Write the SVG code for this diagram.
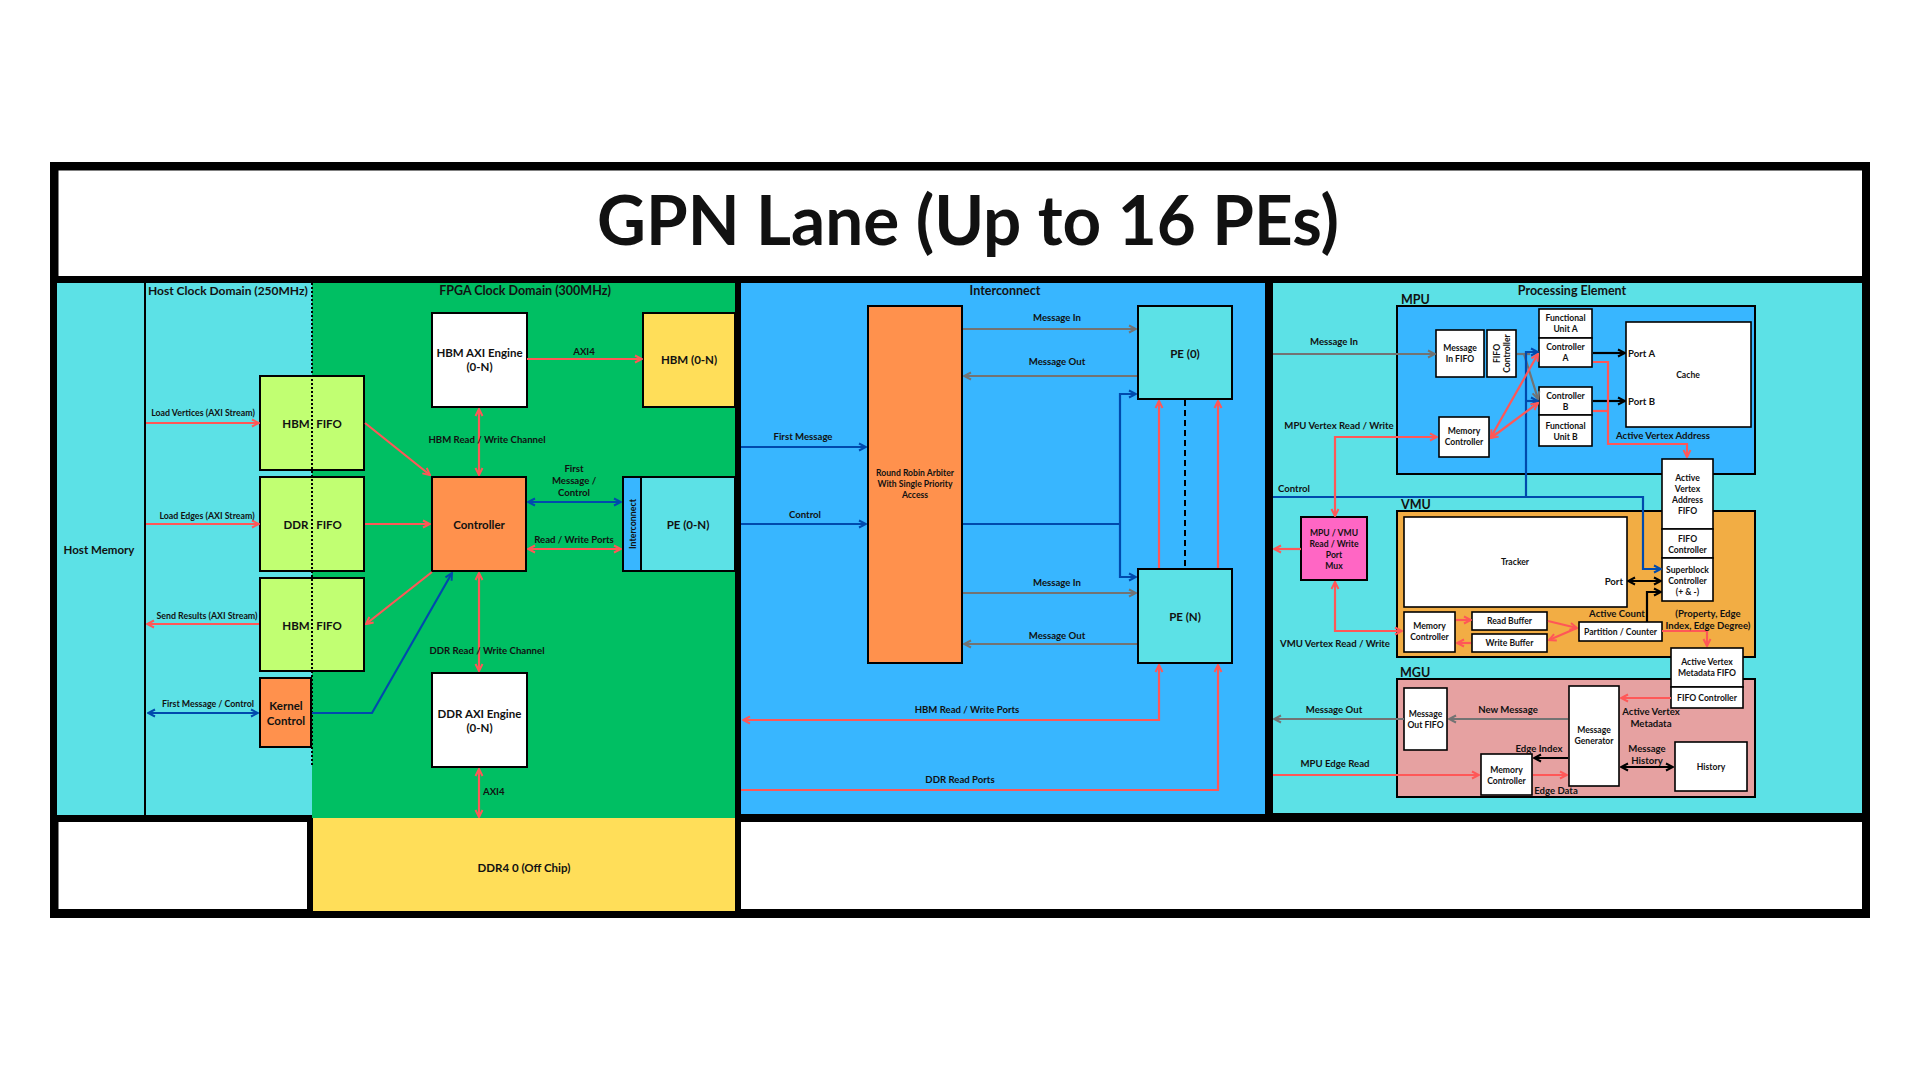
<svg xmlns="http://www.w3.org/2000/svg" width="1920" height="1080" viewBox="0 0 1920 1080">
<defs>
<style>
.t{font-family:Lato,"Open Sans","Liberation Sans",sans-serif;font-weight:700;fill:#111;text-anchor:middle;dominant-baseline:central}
.l{text-anchor:start}
.e{text-anchor:end}
.f68{font-size:68px}.f12{font-size:12.5px}.f11{font-size:11.5px}.f9{font-size:9px}.f85{font-size:9.6px}.f8{font-size:8.8px}.f75{font-size:8.6px}
.box{stroke:#000;stroke-width:2}
.sm{stroke:#000;stroke-width:1.6}
.red{fill:none;stroke:#FF5757;stroke-width:2.2}
.blu{fill:none;stroke:#004AAD;stroke-width:2.2}
.gry{fill:none;stroke:#737373;stroke-width:2.2}
.blk{fill:none;stroke:#000;stroke-width:2.2}
.ar{marker-end:url(#mr)}.ar2{marker-start:url(#mr);marker-end:url(#mr)}
.ab{marker-end:url(#mb)}.ab2{marker-start:url(#mb);marker-end:url(#mb)}
.ag{marker-end:url(#mg)}
.ak{marker-end:url(#mk)}.ak2{marker-start:url(#mk);marker-end:url(#mk)}
</style>
<marker id="mr" viewBox="0 0 10 10" refX="9" refY="5" markerWidth="10" markerHeight="10" markerUnits="userSpaceOnUse" orient="auto-start-reverse"><path d="M2,1.5 L9,5 L2,8.5" fill="none" stroke="#FF5757" stroke-width="2"/></marker>
<marker id="mb" viewBox="0 0 10 10" refX="9" refY="5" markerWidth="10" markerHeight="10" markerUnits="userSpaceOnUse" orient="auto-start-reverse"><path d="M2,1.5 L9,5 L2,8.5" fill="none" stroke="#004AAD" stroke-width="2"/></marker>
<marker id="mg" viewBox="0 0 10 10" refX="9" refY="5" markerWidth="10" markerHeight="10" markerUnits="userSpaceOnUse" orient="auto-start-reverse"><path d="M2,1.5 L9,5 L2,8.5" fill="none" stroke="#737373" stroke-width="2"/></marker>
<marker id="mk" viewBox="0 0 10 10" refX="9" refY="5" markerWidth="10" markerHeight="10" markerUnits="userSpaceOnUse" orient="auto-start-reverse"><path d="M2,1.5 L9,5 L2,8.5" fill="none" stroke="#000" stroke-width="2"/></marker>
</defs>
<rect width="1920" height="1080" fill="#fff"/>

<g id="frame">
<rect x="50" y="162" width="1820" height="756" fill="#000"/>
<rect x="58.5" y="170.5" width="1803.5" height="105.5" fill="#fff"/>
<rect x="57" y="283" width="87" height="532" fill="#5CE1E6"/>
<rect x="146" y="283" width="166" height="532" fill="#5CE1E6"/>
<rect x="312" y="283" width="423" height="535" fill="#00BF63"/>
<rect x="741" y="283" width="524" height="531" fill="#38B6FF"/>
<rect x="1273" y="283" width="589" height="530" fill="#5CE1E6"/>
<rect x="58.5" y="822" width="248.5" height="87" fill="#fff"/>
<rect x="741" y="822" width="1121" height="87" fill="#fff"/>
<text class="t f68" x="968" y="218" textLength="742" lengthAdjust="spacingAndGlyphs">GPN Lane (Up to 16 PEs)</text>
<text class="t f11" x="99" y="549">Host Memory</text>
<text class="t l" style="font-size:12px" x="148" y="290">Host Clock Domain (250MHz)</text>
<text class="t f12" x="525" y="290">FPGA Clock Domain (300MHz)</text>
<text class="t f12" x="1005" y="290">Interconnect</text>
<text class="t f12" x="1572" y="290">Processing Element</text>
</g>

<g id="ddr4-offchip">
<rect x="313" y="818" width="422" height="93" fill="#FFDE59"/>
<text class="t f11" x="524" y="867">DDR4 0 (Off Chip)</text>
</g>

<g id="hbm-fifo-in">
<rect class="box" x="260" y="376" width="104" height="94" fill="#C1FF72"/>
<text class="t f11" x="296" y="423">HBM</text><text class="t f11" x="329" y="423">FIFO</text>
</g>
<g id="ddr-fifo">
<rect class="box" x="260" y="477" width="104" height="94" fill="#C1FF72"/>
<text class="t f11" x="296" y="524">DDR</text><text class="t f11" x="329" y="524">FIFO</text>
</g>
<g id="hbm-fifo-out">
<rect class="box" x="260" y="578" width="104" height="93" fill="#C1FF72"/>
<text class="t f11" x="296" y="625">HBM</text><text class="t f11" x="329" y="625">FIFO</text>
</g>
<g id="kernel-control">
<rect class="box" x="260" y="678" width="51" height="69" fill="#FF914D"/>
<text class="t f11" x="286" y="705">Kernel</text><text class="t f11" x="286" y="720">Control</text>
</g>
<line x1="312" y1="283" x2="312" y2="765" stroke="#000" stroke-width="2" stroke-dasharray="2 2"/>

<g id="hbm-axi-engine">
<rect class="box" x="432" y="313" width="95" height="94" fill="#fff"/>
<text class="t f11" x="479.5" y="352">HBM AXI Engine</text><text class="t f11" x="479.5" y="366">(0-N)</text>
</g>
<g id="hbm">
<rect class="box" x="643" y="313" width="92" height="94" fill="#FFDE59"/>
<text class="t f11" x="689" y="359">HBM (0-N)</text>
</g>
<g id="controller">
<rect class="box" x="432" y="477" width="94" height="94" fill="#FF914D"/>
<text class="t f11" x="479" y="524">Controller</text>
</g>
<g id="interconnect-small">
<rect class="box" x="623" y="477" width="18" height="94" fill="#38B6FF"/>
<text class="t f8" transform="translate(632,524) rotate(-90)" x="0" y="0">Interconnect</text>
</g>
<g id="pe-0-n">
<rect class="box" x="641" y="477" width="94" height="94" fill="#5CE1E6"/>
<text class="t f11" x="688" y="524">PE (0-N)</text>
</g>
<g id="ddr-axi-engine">
<rect class="box" x="432" y="673" width="95" height="94" fill="#fff"/>
<text class="t f11" x="479.5" y="713">DDR AXI Engine</text><text class="t f11" x="479.5" y="727">(0-N)</text>
</g>

<g id="arbiter">
<rect class="box" x="868" y="306" width="94" height="357" fill="#FF914D"/>
<text class="t f75" x="915" y="473">Round Robin Arbiter</text>
<text class="t f75" x="915" y="484">With Single Priority</text>
<text class="t f75" x="915" y="495">Access</text>
</g>
<g id="pe-0">
<rect class="box" x="1138" y="306" width="94" height="93" fill="#5CE1E6"/>
<text class="t f11" x="1185" y="353">PE (0)</text>
</g>
<g id="pe-n">
<rect class="box" x="1138" y="569" width="94" height="94" fill="#5CE1E6"/>
<text class="t f11" x="1185" y="616">PE (N)</text>
</g>

<g id="mpu">
<rect class="box" x="1397" y="306" width="358" height="168" fill="#38B6FF"/>
<text class="t f12 l" x="1401" y="299">MPU</text>
</g>
<g id="vmu">
<rect class="box" x="1397" y="511" width="358" height="146" fill="#F2AD44"/>
<text class="t f12 l" x="1401" y="504">VMU</text>
</g>
<g id="mgu">
<rect class="box" x="1397" y="679" width="358" height="118" fill="#E6A1A1"/>
<text class="t f12 l" x="1400" y="672">MGU</text>
</g>

<g id="msg-in-fifo">
<rect class="sm" x="1436" y="330" width="48" height="47" fill="#fff"/>
<text class="t f75" x="1460" y="348">Message</text><text class="t f75" x="1460" y="359">In FIFO</text>
</g>
<g id="mpu-fifo-controller">
<rect class="sm" x="1487" y="330" width="29" height="47" fill="#fff"/>
<text class="t f75" transform="translate(1497,353.5) rotate(-90)">FIFO</text>
<text class="t f75" transform="translate(1507,353.5) rotate(-90)">Controller</text>
</g>
<g id="fu-a">
<rect class="sm" x="1539" y="309" width="53" height="29" fill="#fff"/>
<text class="t f75" x="1565.5" y="318">Functional</text><text class="t f75" x="1565.5" y="329">Unit A</text>
</g>
<g id="ctrl-a">
<rect class="sm" x="1539" y="338" width="53" height="29" fill="#fff"/>
<text class="t f75" x="1565.5" y="347">Controller</text><text class="t f75" x="1565.5" y="358">A</text>
</g>
<g id="ctrl-b">
<rect class="sm" x="1539" y="387" width="53" height="28" fill="#fff"/>
<text class="t f75" x="1565.5" y="396">Controller</text><text class="t f75" x="1565.5" y="407">B</text>
</g>
<g id="fu-b">
<rect class="sm" x="1539" y="415" width="53" height="31" fill="#fff"/>
<text class="t f75" x="1565.5" y="426">Functional</text><text class="t f75" x="1565.5" y="437">Unit B</text>
</g>
<g id="cache">
<rect class="sm" x="1626" y="322" width="125" height="105" fill="#fff"/>
<text class="t f75" x="1688" y="375">Cache</text>
<text class="t f85 l" x="1628" y="353">Port A</text>
<text class="t f85 l" x="1628" y="401">Port B</text>
</g>
<g id="mpu-memory-controller">
<rect class="sm" x="1439" y="417" width="50" height="40" fill="#fff"/>
<text class="t f75" x="1464" y="431">Memory</text><text class="t f75" x="1464" y="442">Controller</text>
</g>
<g id="active-vertex-address-fifo">
<rect class="sm" x="1662" y="459" width="51" height="70" fill="#fff"/>
<text class="t f75" x="1687.5" y="478">Active</text><text class="t f75" x="1687.5" y="489">Vertex</text>
<text class="t f75" x="1687.5" y="500">Address</text><text class="t f75" x="1687.5" y="511">FIFO</text>
</g>
<g id="vmu-fifo-controller">
<rect class="sm" x="1662" y="529" width="51" height="29" fill="#fff"/>
<text class="t f75" x="1687.5" y="539">FIFO</text><text class="t f75" x="1687.5" y="550">Controller</text>
</g>
<g id="superblock-controller">
<rect class="sm" x="1662" y="558" width="51" height="43" fill="#fff"/>
<text class="t f75" x="1687.5" y="570">Superblock</text><text class="t f75" x="1687.5" y="581">Controller</text><text class="t f75" x="1687.5" y="592">(+ &amp; -)</text>
</g>
<g id="tracker">
<rect class="sm" x="1404" y="517" width="223" height="90" fill="#fff"/>
<text class="t f75" x="1515" y="562">Tracker</text>
<text class="t f85 e" x="1623" y="581">Port</text>
</g>
<g id="port-mux">
<rect class="box" x="1301" y="517" width="66" height="63" fill="#FF66C4"/>
<text class="t f75" x="1334" y="533">MPU / VMU</text><text class="t f75" x="1334" y="544">Read / Write</text>
<text class="t f75" x="1334" y="555">Port</text><text class="t f75" x="1334" y="566">Mux</text>
</g>
<g id="vmu-memory-controller">
<rect class="sm" x="1404" y="612" width="51" height="40" fill="#fff"/>
<text class="t f75" x="1429.5" y="626">Memory</text><text class="t f75" x="1429.5" y="637">Controller</text>
</g>
<g id="read-buffer">
<rect class="sm" x="1472" y="612" width="75" height="18" fill="#fff"/>
<text class="t f75" x="1509.5" y="621">Read Buffer</text>
</g>
<g id="write-buffer">
<rect class="sm" x="1472" y="634" width="75" height="18" fill="#fff"/>
<text class="t f75" x="1509.5" y="643">Write Buffer</text>
</g>
<g id="partition-counter">
<rect class="sm" x="1579" y="622" width="83" height="19" fill="#fff"/>
<text class="t f75" x="1620.5" y="631.5">Partition / Counter</text>
</g>
<g id="av-metadata-fifo">
<rect class="sm" x="1671" y="648" width="72" height="39" fill="#fff"/>
<text class="t f75" x="1707" y="662">Active Vertex</text><text class="t f75" x="1707" y="673">Metadata FIFO</text>
</g>
<g id="mgu-fifo-controller">
<rect class="sm" x="1671" y="687" width="72" height="21" fill="#fff"/>
<text class="t f75" x="1707" y="698">FIFO Controller</text>
</g>
<g id="msg-out-fifo">
<rect class="sm" x="1404" y="688" width="43" height="62" fill="#fff"/>
<text class="t f75" x="1425.5" y="714">Message</text><text class="t f75" x="1425.5" y="725">Out FIFO</text>
</g>
<g id="message-generator">
<rect class="sm" x="1569" y="686" width="50" height="100" fill="#fff"/>
<text class="t f75" x="1594" y="730">Message</text><text class="t f75" x="1594" y="741">Generator</text>
</g>
<g id="history">
<rect class="sm" x="1675" y="742" width="72" height="49" fill="#fff"/>
<text class="t f75" x="1711" y="767">History</text>
</g>
<g id="mgu-memory-controller">
<rect class="sm" x="1481" y="754" width="51" height="41" fill="#fff"/>
<text class="t f75" x="1506.5" y="770">Memory</text><text class="t f75" x="1506.5" y="781">Controller</text>
</g>

<g id="connectors">
<line class="red ar" x1="146" y1="423" x2="259" y2="423"/>
<line class="red ar" x1="146" y1="524" x2="259" y2="524"/>
<line class="red ar" x1="259" y1="624" x2="147" y2="624"/>
<line class="blu ab2" x1="148" y1="713" x2="258" y2="713"/>
<line class="red ar" x1="365" y1="423" x2="430" y2="475"/>
<line class="red ar" x1="365" y1="524" x2="430" y2="524"/>
<line class="red ar" x1="432" y1="572" x2="366" y2="624"/>
<polyline class="blu ab" points="312,713 372,713 452,573"/>
<line class="red ar2" x1="479" y1="409" x2="479" y2="475"/>
<line class="red ar" x1="527" y1="359" x2="642" y2="359"/>
<line class="blu ab2" x1="528" y1="502" x2="621" y2="502"/>
<line class="red ar2" x1="528" y1="549" x2="621" y2="549"/>
<line class="red ar2" x1="479" y1="573" x2="479" y2="671"/>
<line class="red ar2" x1="479" y1="769" x2="479" y2="817"/>

<line class="blu ab" x1="741" y1="447" x2="866" y2="447"/>
<line class="blu ab" x1="741" y1="524" x2="866" y2="524"/>
<line class="gry ag" x1="963" y1="329" x2="1136" y2="329"/>
<line class="gry ag" x1="1137" y1="376" x2="964" y2="376"/>
<line class="gry ag" x1="963" y1="593" x2="1136" y2="593"/>
<line class="gry ag" x1="1137" y1="644" x2="964" y2="644"/>
<line class="blu" x1="963" y1="524" x2="1120" y2="524"/>
<polyline class="blu ab2" points="1136,394 1120,394 1120,577 1136,577"/>
<line class="red ar" x1="1159" y1="568" x2="1159" y2="401"/>
<line class="red ar" x1="1218" y1="568" x2="1218" y2="401"/>
<line x1="1185" y1="400" x2="1185" y2="568" stroke="#000" stroke-width="2" stroke-dasharray="6 4"/>
<polyline class="red ar2" points="1159,665 1159,720 743,720"/>
<polyline class="red ar" points="741,790 1218,790 1218,665"/>

<line class="gry ag" x1="1273" y1="354" x2="1435" y2="354"/>
<polyline class="gry" points="1517,354 1530,354"/>
<polyline class="gry ag" points="1517,354 1524,354 1538,399"/>
<polyline class="blu ab" points="1526,497 1526,352 1538,352"/>
<line class="blu ab" x1="1526" y1="401" x2="1538" y2="401"/>
<polyline class="blu ab" points="1273,497 1643,497 1643,569 1661,569"/>
<line class="red ar2" x1="1491" y1="437" x2="1538" y2="354"/>
<line class="red ar2" x1="1491" y1="438" x2="1538" y2="403"/>
<line class="blk ak" x1="1593" y1="353" x2="1625" y2="353"/>
<line class="blk ak" x1="1593" y1="401" x2="1625" y2="401"/>
<polyline class="red ar" points="1593,362 1608,362 1608,444 1687,444 1687,457"/>
<polyline class="red" points="1593,411 1608,411"/>
<polyline class="red ar2" points="1335,516 1335,437 1437,437"/>
<line class="red ar" x1="1301" y1="549" x2="1274" y2="549"/>
<polyline class="red ar2" points="1335,582 1335,631 1402,631"/>
<line class="blk ak2" x1="1628" y1="581" x2="1661" y2="581"/>
<line class="red ar" x1="1456" y1="620" x2="1471" y2="620"/>
<line class="red ar" x1="1471" y1="643" x2="1457" y2="643"/>
<line class="red ar" x1="1548" y1="621" x2="1577" y2="628"/>
<line class="red ar" x1="1577" y1="628" x2="1549" y2="640"/>
<polyline class="blk ak" points="1647,622 1647,592 1661,592"/>
<polyline class="red ar" points="1662,631 1707,631 1707,646"/>
<line class="red ar" x1="1671" y1="698" x2="1621" y2="698"/>
<line class="gry ag" x1="1404" y1="719" x2="1274" y2="719"/>
<line class="gry ag" x1="1568" y1="719" x2="1449" y2="719"/>
<line class="blk ak2" x1="1621" y1="767" x2="1673" y2="767"/>
<line class="blk ak" x1="1568" y1="758" x2="1534" y2="758"/>
<line class="red ar" x1="1533" y1="775" x2="1567" y2="775"/>
<line class="red ar" x1="1273" y1="775" x2="1479" y2="775"/>
</g>

<g id="labels">
<text class="t f8" x="203" y="412">Load Vertices (AXI Stream)</text>
<text class="t f8" x="207" y="515">Load Edges (AXI Stream)</text>
<text class="t f8" x="207" y="615">Send Results (AXI Stream)</text>
<text class="t f8" x="208" y="703">First Message / Control</text>
<text class="t f85" x="487" y="439">HBM Read / Write Channel</text>
<text class="t f85" x="584" y="351">AXI4</text>
<text class="t f85" x="574" y="468">First</text>
<text class="t f85" x="574" y="480">Message /</text>
<text class="t f85" x="574" y="492">Control</text>
<text class="t f85" x="574" y="539">Read / Write Ports</text>
<text class="t f85" x="487" y="650">DDR Read / Write Channel</text>
<text class="t f85 l" x="483" y="791">AXI4</text>
<text class="t f85" x="803" y="436">First Message</text>
<text class="t f85" x="805" y="514">Control</text>
<text class="t f85" x="1057" y="317">Message In</text>
<text class="t f85" x="1057" y="361">Message Out</text>
<text class="t f85" x="1057" y="582">Message In</text>
<text class="t f85" x="1057" y="635">Message Out</text>
<text class="t f85" x="967" y="709">HBM Read / Write Ports</text>
<text class="t f85" x="960" y="779">DDR Read Ports</text>
<text class="t f85" x="1334" y="341">Message In</text>
<text class="t f85" x="1339" y="425">MPU Vertex Read / Write</text>
<text class="t f85 l" x="1278" y="488">Control</text>
<text class="t f85" x="1663" y="435">Active Vertex Address</text>
<text class="t f85" x="1617" y="613">Active Count</text>
<text class="t f85" x="1708" y="613">(Property, Edge</text>
<text class="t f85" x="1708" y="625">Index, Edge Degree)</text>
<text class="t f85" x="1335" y="643">VMU Vertex Read / Write</text>
<text class="t f85" x="1334" y="709">Message Out</text>
<text class="t f85" x="1508" y="709">New Message</text>
<text class="t f85" x="1651" y="711">Active Vertex</text>
<text class="t f85" x="1651" y="723">Metadata</text>
<text class="t f85" x="1647" y="748">Message</text>
<text class="t f85" x="1647" y="760">History</text>
<text class="t f85" x="1539" y="748">Edge Index</text>
<text class="t f85" x="1556" y="790">Edge Data</text>
<text class="t f85" x="1335" y="763">MPU Edge Read</text>
</g>
</svg>
